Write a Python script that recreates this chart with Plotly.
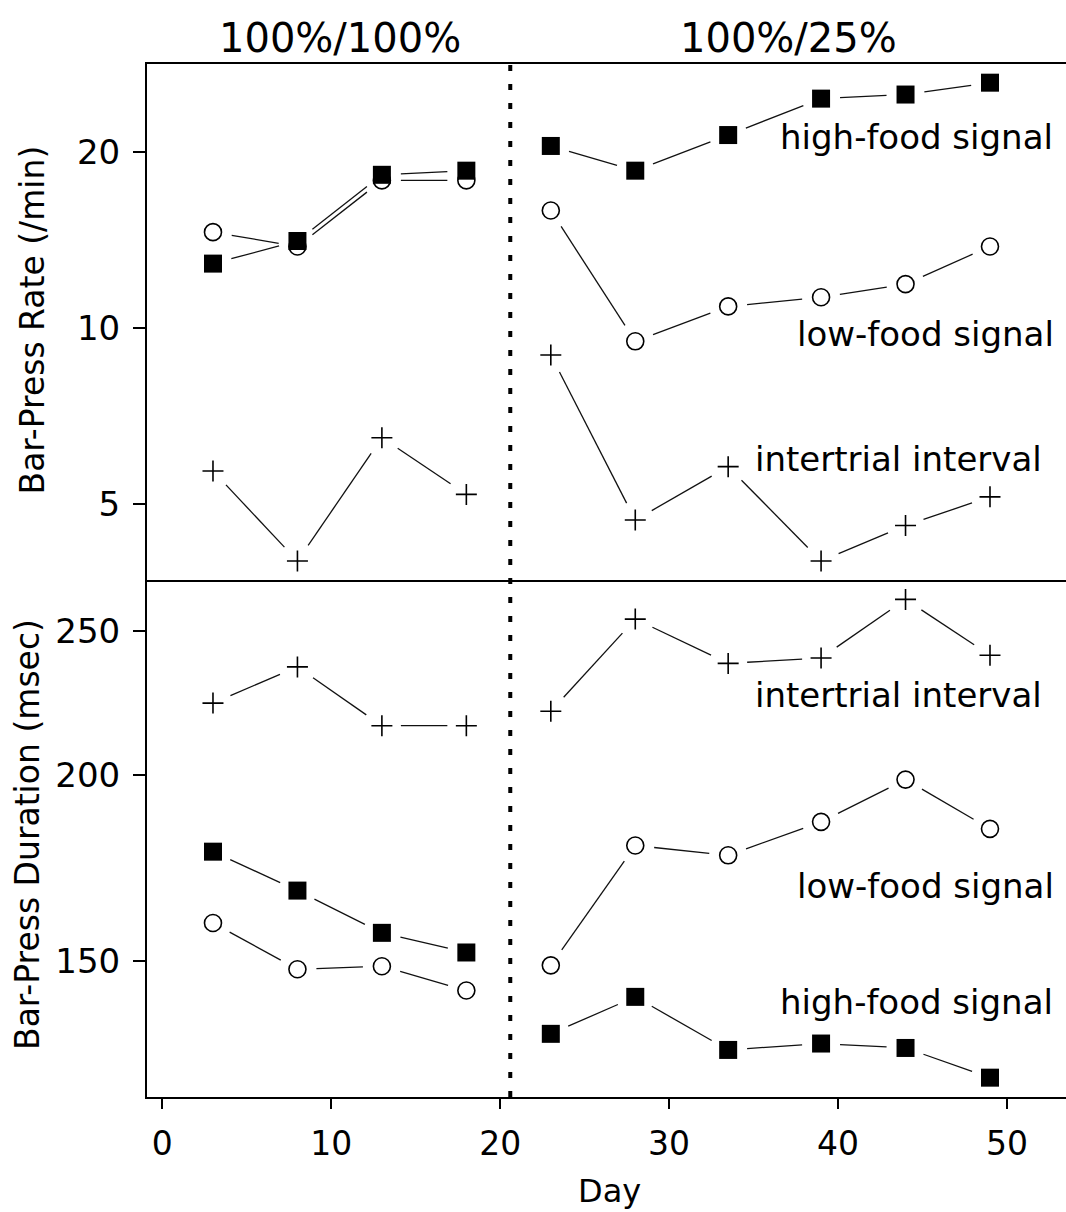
import math
import plotly.graph_objects as go
from plotly.subplots import make_subplots

# ---------------- data ----------------
days_a = [3, 8, 13, 18]                 # 100%/100% phase
days_b = [23, 28, 33.5, 39, 44, 49]     # 100%/25% phase

rate_high_a = [12.9, 14.1, 18.3, 18.6]
rate_low_a = [14.6, 13.8, 17.9, 17.9]
rate_iti_a = [5.7, 4.0, 6.5, 5.2]
rate_high_b = [20.5, 18.6, 21.4, 24.7, 25.1, 26.3]
rate_low_b = [15.9, 9.5, 10.9, 11.3, 11.9, 13.8]
rate_iti_b = [9.0, 4.7, 5.8, 4.0, 4.6, 5.15]

dur_high_a = [177.7, 167.3, 156.7, 152.0]
dur_low_a = [159.1, 148.1, 148.8, 143.3]
dur_iti_a = [223.7, 236.6, 216.0, 216.0]
dur_high_b = [134.0, 141.9, 130.7, 132.0, 131.1, 125.2]
dur_low_b = [149.0, 179.4, 176.7, 186.1, 198.7, 184.1]
dur_iti_b = [220.9, 254.8, 237.9, 239.9, 262.7, 240.9]

rate_ticks = [5, 10, 20]
dur_ticks = [150, 200, 250]
x_ticks = [0, 10, 20, 30, 40, 50]
phase_split = 20.6

phase_titles = ["100%/100%", "100%/25%"]
series_labels = ["high-food signal", "low-food signal", "intertrial interval"]

# ---------------- layout constants ----------------
FONT = "DejaVu Sans"
W, H = 1066, 1212
L, R, T, B = 147, 0, 64, 115
PW, PH = W - L - R, H - T - B
ROW_H = [516, 517]
X_RANGE = [-0.906, 53.5]
Y_RANGES = {1: [0.5696, 1.4519], 2: [2.0846, 2.4325]}
ROW_TOP = {1: T, 2: T + ROW_H[0]}
ROW_PX = {1: ROW_H[0], 2: ROW_H[1]}
GAP = 19  # px gap between a point and its connecting line (R type="b" look)


def px_x(px):
    return (px - L) / PW


def px_y(py):
    return (H - B - py) / PH


def to_px(x, y, row):
    r0, r1 = Y_RANGES[row]
    xp = L + (x - X_RANGE[0]) / (X_RANGE[1] - X_RANGE[0]) * PW
    yp = ROW_TOP[row] + (r1 - math.log10(y)) / (r1 - r0) * ROW_PX[row]
    return xp, yp


def from_px(xp, yp, row):
    r0, r1 = Y_RANGES[row]
    x = X_RANGE[0] + (xp - L) / PW * (X_RANGE[1] - X_RANGE[0])
    y = 10 ** (r1 - (yp - ROW_TOP[row]) / ROW_PX[row] * (r1 - r0))
    return x, y


def gapped_segments(xs, ys, row):
    """Line pieces between consecutive points, stopped short of each point."""
    out_x, out_y = [], []
    for i in range(len(xs) - 1):
        p = to_px(xs[i], ys[i], row)
        q = to_px(xs[i + 1], ys[i + 1], row)
        dx, dy = q[0] - p[0], q[1] - p[1]
        d = math.hypot(dx, dy)
        f = GAP / d
        s = from_px(p[0] + dx * f, p[1] + dy * f, row)
        e = from_px(q[0] - dx * f, q[1] - dy * f, row)
        out_x += [s[0], e[0], None]
        out_y += [s[1], e[1], None]
    return out_x, out_y


fig = make_subplots(rows=2, cols=1, shared_xaxes=True, vertical_spacing=0,
                    row_heights=ROW_H)

panels = [
    (1, [(rate_high_a, rate_high_b, "square"),
         (rate_low_a, rate_low_b, "circle"),
         (rate_iti_a, rate_iti_b, "cross")]),
    (2, [(dur_high_a, dur_high_b, "square"),
         (dur_low_a, dur_low_b, "circle"),
         (dur_iti_a, dur_iti_b, "cross")]),
]

for row, series in panels:
    for ya, yb, sym in series:
        lx, ly = [], []
        for xs, ys in ((days_a, ya), (days_b, yb)):
            sx, sy = gapped_segments(xs, ys, row)
            lx += sx
            ly += sy
        fig.add_trace(go.Scatter(x=lx, y=ly, mode="lines",
                                 line=dict(color="#111111", width=1.3),
                                 connectgaps=False, showlegend=False,
                                 hoverinfo="skip"), row=row, col=1)
    for ya, yb, sym in reversed(series):
        xs = days_a + days_b
        ys = ya + yb
        if sym == "square":
            mk = dict(symbol="square", size=18, color="black", line=dict(width=0))
        elif sym == "circle":
            mk = dict(symbol="circle", size=17, color="white",
                      line=dict(color="black", width=1.6))
        else:
            mk = dict(symbol="cross-thin-open", size=15, color="black",
                      line=dict(color="black", width=1.6))
        fig.add_trace(go.Scatter(x=xs, y=ys, mode="markers", marker=mk,
                                 showlegend=False), row=row, col=1)

axis_common = dict(showgrid=False, zeroline=False, showline=True,
                   linecolor="black", linewidth=2)

fig.update_xaxes(range=X_RANGE, **axis_common)
fig.update_xaxes(row=1, col=1, mirror=True, ticks="", showticklabels=False)
fig.update_xaxes(row=2, col=1, ticks="outside", ticklen=10, tickwidth=2,
                 tickcolor="black", tickvals=x_ticks,
                 ticktext=[str(v) for v in x_ticks],
                 tickfont=dict(family=FONT, size=33, color="black"),
                 ticklabelstandoff=6)

fig.update_yaxes(row=1, col=1, type="log", range=Y_RANGES[1],
                 tickvals=rate_ticks, ticktext=[str(v) for v in rate_ticks],
                 ticks="outside", ticklen=12, tickwidth=2, tickcolor="black",
                 tickfont=dict(family=FONT, size=34, color="black"),
                 ticklabelstandoff=6, **axis_common)
fig.update_yaxes(row=2, col=1, type="log", range=Y_RANGES[2],
                 tickvals=dur_ticks, ticktext=[str(v) for v in dur_ticks],
                 ticks="outside", ticklen=12, tickwidth=2, tickcolor="black",
                 tickfont=dict(family=FONT, size=34, color="black"),
                 ticklabelstandoff=6, **axis_common)

# dotted phase divider spanning both panels
fig.add_shape(type="line", xref="x", yref="paper", x0=phase_split, x1=phase_split,
              y0=0, y1=1, line=dict(color="black", width=4, dash="6px,13px"),
              layer="above")

annotations = []
for text, xc in [(phase_titles[0], 340), (phase_titles[1], 788)]:
    annotations.append(dict(text=text, xref="paper", yref="paper",
                            x=px_x(xc), y=px_y(38), showarrow=False,
                            xanchor="center", yanchor="middle",
                            font=dict(family=FONT, size=40, color="black")))

label_pos = [
    (series_labels[0], 1054.5, 136.7),
    (series_labels[1], 1056, 334.2),
    (series_labels[2], 1044, 459.2),
    (series_labels[2], 1044, 695.2),
    (series_labels[1], 1056, 885.7),
    (series_labels[0], 1054.5, 1002.2),
]
for text, xr, yc in label_pos:
    annotations.append(dict(text=text, xref="paper", yref="paper",
                            x=px_x(xr), y=px_y(yc), xanchor="right", yanchor="middle",
                            showarrow=False,
                            font=dict(family=FONT, size=34, color="black")))

annotations.append(dict(text="Bar-Press Rate (/min)", xref="paper", yref="paper",
                        x=px_x(31.5), y=px_y(320), textangle=-90,
                        xanchor="center", yanchor="middle", showarrow=False,
                        font=dict(family=FONT, size=33, color="black")))
annotations.append(dict(text="Bar-Press Duration (msec)", xref="paper", yref="paper",
                        x=px_x(27), y=px_y(835), textangle=-90,
                        xanchor="center", yanchor="middle", showarrow=False,
                        font=dict(family=FONT, size=33, color="black")))
annotations.append(dict(text="Day", xref="paper", yref="paper",
                        x=px_x(609.5), y=px_y(1190.5),
                        xanchor="center", yanchor="middle", showarrow=False,
                        font=dict(family=FONT, size=32, color="black")))

fig.update_layout(width=W, height=H, margin=dict(l=L, r=R, t=T, b=B),
                  paper_bgcolor="white", plot_bgcolor="white",
                  annotations=annotations, showlegend=False,
                  font=dict(family=FONT, color="black"))

fig.write_html("out.html")
